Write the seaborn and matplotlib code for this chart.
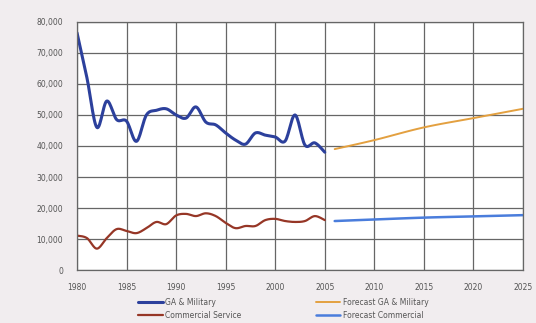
import numpy as np
import pandas as pd
import matplotlib
matplotlib.use("Agg")
import matplotlib.pyplot as plt
from matplotlib.ticker import FuncFormatter, MultipleLocator
import seaborn as sns

# Historical operations, 1980-2005
years = list(range(1980, 2006))
ga_military = [76500, 62000, 46000, 54500, 48500, 48000, 41500, 50000, 51500, 52000,
               50000, 49000, 52600, 47700, 46800, 44200, 41900, 40600, 44200, 43500,
               42900, 41600, 50000, 40300, 41000, 38000]
commercial = [11100, 10300, 6900, 10300, 13200, 12600, 11900, 13500, 15500, 14800,
              17600, 18100, 17400, 18300, 17400, 15200, 13500, 14200, 14200, 16100,
              16500, 15800, 15500, 15800, 17400, 16100]

# Forecast operations, 2006-2025
forecast_years = [2006, 2010, 2015, 2020, 2025]
forecast_ga = [39000, 41900, 46000, 49000, 52000]
forecast_commercial = [15800, 16300, 16900, 17300, 17700]

labels = ["GA & Military", "Commercial Service",
          "Forecast GA & Military", "Forecast Commercial"]
colors = ["#2c409c", "#963626", "#e3a040", "#4a7ddc"]
widths = [2.2, 1.6, 1.4, 1.8]


def smooth(x, y, n=14):
    """Catmull-Rom curve through the points, like a smoothed spreadsheet line."""
    p = np.column_stack([x, y]).astype(float)
    p = np.vstack([p[0], p, p[-1]])
    t = np.linspace(0, 1, n, endpoint=False)[:, None]
    out = []
    for i in range(1, len(p) - 2):
        p0, p1, p2, p3 = p[i - 1], p[i], p[i + 1], p[i + 2]
        seg = 0.5 * ((2 * p1) + (-p0 + p2) * t
                     + (2 * p0 - 5 * p1 + 4 * p2 - p3) * t ** 2
                     + (-p0 + 3 * p1 - 3 * p2 + p3) * t ** 3)
        out.append(seg)
    out.append(p[-2][None, :])
    c = np.vstack(out)
    return pd.DataFrame({"year": c[:, 0], "ops": c[:, 1]})


sns.set_style("white")
plt.rcParams["font.family"] = ["DejaVu Sans"]

fig = plt.figure(figsize=(5.36, 3.23), dpi=100, facecolor="#f1edef")
ax = fig.add_axes([0.1437, 0.164, 0.832, 0.768])
ax.set_facecolor("white")

series = [(years, ga_military), (years, commercial),
          (forecast_years, forecast_ga), (forecast_years, forecast_commercial)]
for (xs, ys), lab, col, lw in zip(series, labels, colors, widths):
    sns.lineplot(data=smooth(xs, ys), x="year", y="ops", ax=ax, sort=False,
                 estimator=None, color=col, linewidth=lw, label=lab)

ax.set_xlim(1980, 2025)
ax.set_ylim(0, 80000)
ax.xaxis.set_major_locator(MultipleLocator(5))
ax.yaxis.set_major_locator(MultipleLocator(10000))
ax.yaxis.set_major_formatter(FuncFormatter(lambda v, _: f"{int(v):,}"))
ax.grid(True, color="#666666", linewidth=0.9)
for s in ax.spines.values():
    s.set_color("#666666")
    s.set_linewidth(0.9)
ax.tick_params(axis="y", length=3, color="#8a8a8a", labelsize=5.5,
               labelcolor="#555555", pad=7)
ax.tick_params(axis="x", length=0, labelsize=5.5, labelcolor="#555555", pad=9)
ax.set_xlabel("")
ax.set_ylabel("")

handles, labs = ax.get_legend_handles_labels()
ax.get_legend().remove()
fig.legend(handles, labs, ncol=2, loc="lower left", bbox_to_anchor=(0.245, -0.012),
           frameon=False, fontsize=5.5, handlelength=3.2, columnspacing=9.8,
           labelspacing=0.55, handletextpad=0.3, labelcolor="#555555")

fig.savefig("out.png", dpi=100, facecolor=fig.get_facecolor())
